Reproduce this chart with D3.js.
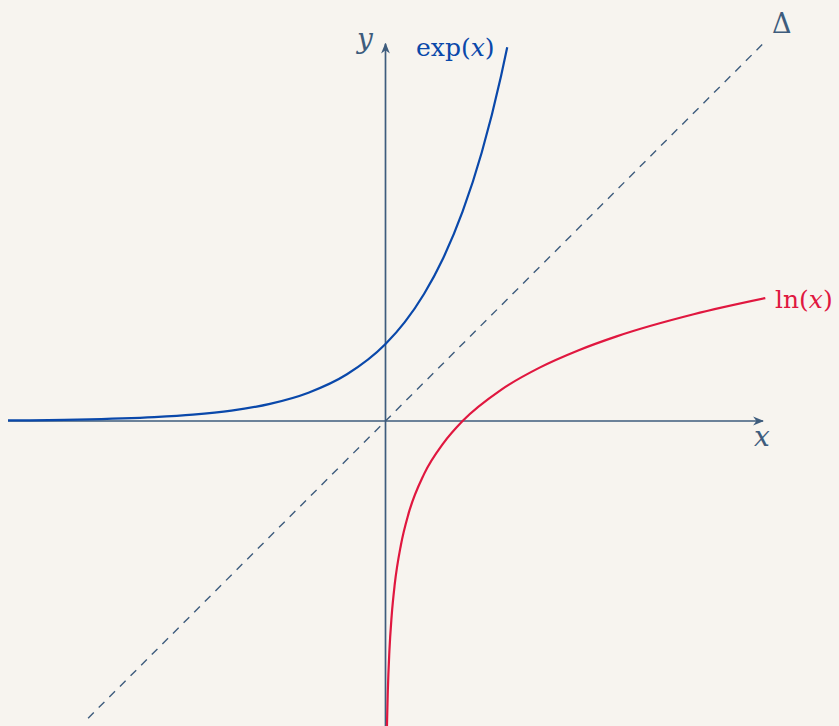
<!DOCTYPE html>
<html>
<head>
<meta charset="utf-8">
<script src="https://cdn.jsdelivr.net/npm/d3@7"></script>
<style>
  html, body { margin: 0; padding: 0; background: #f7f4ef; }
  svg { display: block; }
  text { font-family: "DejaVu Serif", serif; }
</style>
</head>
<body>
<div id="chart"></div>
<script>
// values
const expX = [-4.9, -4, -3, -2.5, -2, -1.5, -1, -0.5, 0, 0.25, 0.5, 0.75, 1, 1.25, 1.5, 1.58];
const expY = [0.0074, 0.018, 0.05, 0.082, 0.135, 0.223, 0.368, 0.607, 1, 1.284, 1.649, 2.117, 2.718, 3.49, 4.482, 4.855];
const lnX = [0.014, 0.02, 0.03, 0.05, 0.08, 0.12, 0.2, 0.3, 0.5, 0.75, 1, 1.5, 2, 2.5, 3, 4, 4.93];
const lnY = [-4.27, -3.91, -3.51, -3.0, -2.53, -2.12, -1.61, -1.2, -0.69, -0.29, 0, 0.405, 0.693, 0.916, 1.099, 1.386, 1.595];
const deltaX = [-3.86, 4.9];
const deltaY = [-3.86, 4.9];
const labels = { y: 'y', x: 'x', exp: 'exp', ln: 'ln', delta: 'Δ' };

let width = 839;
let height = 726;

let x = d3.scaleLinear().domain([-4.9, 4.9]).range([8, 763]);
let y = d3.scaleLinear().domain([0, 1]).range([421, 344]);

let svg = d3.select('#chart')
  .append('svg')
  .attr('width', width)
  .attr('height', height);

let axisColor = '#3e5c7d';

// arrow head
svg.append('defs').append('marker')
  .attr('id', 'arrow')
  .attr('viewBox', '0 0 10 10')
  .attr('refX', 9)
  .attr('refY', 5)
  .attr('markerWidth', 11)
  .attr('markerHeight', 11)
  .attr('markerUnits', 'userSpaceOnUse')
  .attr('orient', 'auto')
  .append('path')
  .attr('d', 'M0,1 L10,5 L0,9 L3,5 Z')
  .attr('fill', axisColor);

// axes
svg.append('line')
  .attr('x1', x(-4.9)).attr('y1', y(0))
  .attr('x2', x(4.9)).attr('y2', y(0))
  .attr('stroke', axisColor)
  .attr('stroke-width', 1.7)
  .attr('marker-end', 'url(#arrow)');

svg.append('line')
  .attr('x1', x(0)).attr('y1', y(-4.1))
  .attr('x2', x(0)).attr('y2', y(4.9))
  .attr('stroke', axisColor)
  .attr('stroke-width', 1.7)
  .attr('marker-end', 'url(#arrow)');

// Δ : y = x
svg.append('path')
  .datum(d3.zip(deltaX, deltaY))
  .attr('d', d3.line().x(d => x(d[0])).y(d => y(d[1])))
  .attr('fill', 'none')
  .attr('stroke', axisColor)
  .attr('stroke-width', 1.4)
  .attr('stroke-dasharray', '8,7');

let line = d3.line()
  .x(d => x(d[0]))
  .y(d => y(d[1]))
  .curve(d3.curveMonotoneX);

svg.append('path')
  .datum(d3.zip(expX, expY))
  .attr('d', line)
  .attr('fill', 'none')
  .attr('stroke', '#0a48aa')
  .attr('stroke-width', 2.2);

svg.append('path')
  .datum(d3.zip(lnX, lnY))
  .attr('d', line)
  .attr('fill', 'none')
  .attr('stroke', '#e0173f')
  .attr('stroke-width', 2.2);

// labels
svg.append('text')
  .attr('x', 357).attr('y', 48)
  .attr('font-size', 28)
  .attr('font-style', 'italic')
  .attr('fill', axisColor)
  .text(labels.y);

svg.append('text')
  .attr('x', 754).attr('y', 446)
  .attr('font-size', 28)
  .attr('font-style', 'italic')
  .attr('fill', axisColor)
  .text(labels.x);

svg.append('text')
  .attr('x', 772).attr('y', 33)
  .attr('font-size', 27)
  .attr('fill', axisColor)
  .text(labels.delta);

let expLabel = svg.append('text')
  .attr('x', 416).attr('y', 56)
  .attr('font-size', 25)
  .attr('fill', '#0a48aa');
expLabel.append('tspan').text(labels.exp + '(');
expLabel.append('tspan').attr('font-style', 'italic').text('x');
expLabel.append('tspan').text(')');

let lnLabel = svg.append('text')
  .attr('x', 775).attr('y', 308)
  .attr('font-size', 25)
  .attr('fill', '#e0173f');
lnLabel.append('tspan').text(labels.ln + '(');
lnLabel.append('tspan').attr('font-style', 'italic').text('x');
lnLabel.append('tspan').text(')');
</script>
</body>
</html>
